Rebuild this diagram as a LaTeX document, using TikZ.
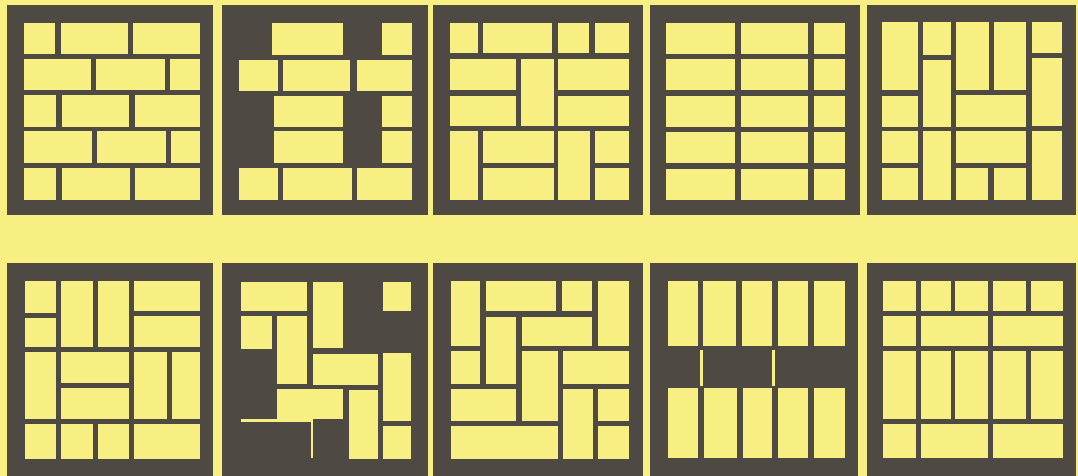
\documentclass[tikz,border=0pt]{standalone}
\definecolor{paper}{HTML}{F8EF82}
\definecolor{ink}{HTML}{4E4943}
\tikzset{
  tileframe/.style={fill=ink},
  brick/.style={fill=paper},
  seam/.style={fill=paper},
  tilescope/.style={x=0.33333pt,y=-0.33333pt}
}
\begin{document}
\begin{tikzpicture}[x=1pt,y=-1pt]
\fill[paper] (0,0) rectangle (1078,476);
\useasboundingbox (0,0) rectangle (1078,476);

% ---------- Tile 1 ----------
\begin{scope}[xshift=0pt,yshift=0pt,tilescope]
\fill[tileframe] (20,15) rectangle (640,645);
\foreach \a/\b in {72/165,182/385,400/600} \fill[brick] (\a,70) rectangle (\b,162);
\foreach \a/\b in {72/272,288/495,510/600} \fill[brick] (\a,178) rectangle (\b,270);
\foreach \a/\b in {72/168,185/388,405/600} \fill[brick] (\a,285) rectangle (\b,380);
\foreach \a/\b in {72/275,290/497,512/600} \fill[brick] (\a,393) rectangle (\b,490);
\foreach \a/\b in {72/168,185/390,405/600} \fill[brick] (\a,503) rectangle (\b,600);
\end{scope}

% ---------- Tile 2 ----------
\begin{scope}[xshift=215pt,yshift=0pt,tilescope]
\fill[tileframe] (22,15) rectangle (640,645);
\foreach \a/\b in {170/385,500/590} \fill[brick] (\a,68) rectangle (\b,165);
\foreach \a/\b in {72/190,205/405,425/590} \fill[brick] (\a,180) rectangle (\b,272);
\foreach \a/\b in {178/385,500/590} \fill[brick] (\a,288) rectangle (\b,380);
\foreach \a/\b in {178/385,500/590} \fill[brick] (\a,393) rectangle (\b,490);
\foreach \a/\b in {72/188,203/410,425/590} \fill[brick] (\a,503) rectangle (\b,600);
\end{scope}

% ---------- Tile 3 ----------
\begin{scope}[xshift=430pt,yshift=0pt,tilescope]
\fill[tileframe] (10,15) rectangle (640,645);
\foreach \a/\b in {60/145,160/365,385/478,495/598} \fill[brick] (\a,70) rectangle (\b,160);
\fill[brick] (60,178) rectangle (258,270);
\fill[brick] (60,288) rectangle (258,378);
\fill[brick] (272,178) rectangle (372,378);
\fill[brick] (385,178) rectangle (598,270);
\fill[brick] (385,288) rectangle (598,378);
\fill[brick] (60,393) rectangle (145,600);
\fill[brick] (160,393) rectangle (372,490);
\fill[brick] (160,505) rectangle (372,600);
\fill[brick] (385,393) rectangle (480,600);
\fill[brick] (495,393) rectangle (598,490);
\fill[brick] (495,505) rectangle (598,600);
\end{scope}

% ---------- Tile 4 ----------
\begin{scope}[xshift=645pt,yshift=0pt,tilescope]
\fill[tileframe] (15,15) rectangle (645,645);
\foreach \t/\u in {68/162,178/270,288/380,395/490,508/600}
  \foreach \a/\b in {62/270,288/490,508/600}
    \fill[brick] (\a,\t) rectangle (\b,\u);
\end{scope}

% ---------- Tile 5 ----------
\begin{scope}[xshift=858pt,yshift=0pt,tilescope]
\fill[tileframe] (28,15) rectangle (655,645);
\fill[brick] (72,65) rectangle (180,270);
\fill[brick] (195,65) rectangle (278,165);
\fill[brick] (195,180) rectangle (278,380);
\fill[brick] (295,65) rectangle (392,270);
\fill[brick] (408,65) rectangle (505,270);
\fill[brick] (522,65) rectangle (612,160);
\fill[brick] (522,175) rectangle (612,378);
\fill[brick] (72,288) rectangle (180,380);
\fill[brick] (295,285) rectangle (505,380);
\fill[brick] (72,393) rectangle (180,490);
\fill[brick] (72,505) rectangle (180,600);
\fill[brick] (195,393) rectangle (278,600);
\fill[brick] (295,393) rectangle (505,488);
\fill[brick] (295,503) rectangle (390,600);
\fill[brick] (408,503) rectangle (505,600);
\fill[brick] (522,393) rectangle (612,600);
\end{scope}

% ---------- Tile 6 ----------
\begin{scope}[xshift=0pt,yshift=-256pt,tilescope]
\fill[tileframe] (22,20) rectangle (640,660);
\fill[brick] (75,75) rectangle (168,170);
\fill[brick] (75,185) rectangle (168,272);
\fill[brick] (183,75) rectangle (278,272);
\fill[brick] (295,75) rectangle (388,272);
\fill[brick] (403,75) rectangle (600,165);
\fill[brick] (403,180) rectangle (600,272);
\fill[brick] (75,288) rectangle (168,490);
\fill[brick] (183,288) rectangle (388,380);
\fill[brick] (183,395) rectangle (388,490);
\fill[brick] (403,288) rectangle (500,490);
\fill[brick] (515,288) rectangle (600,490);
\fill[brick] (75,505) rectangle (168,610);
\fill[brick] (183,505) rectangle (278,610);
\fill[brick] (295,505) rectangle (388,610);
\fill[brick] (403,505) rectangle (600,610);
\end{scope}

% ---------- Tile 7 ----------
\begin{scope}[xshift=215pt,yshift=-256pt,tilescope]
\fill[tileframe] (22,20) rectangle (640,660);
\fill[brick] (78,78) rectangle (275,165);
\fill[brick] (293,78) rectangle (385,275);
\fill[brick] (503,78) rectangle (588,165);
\fill[brick] (78,180) rectangle (170,278);
\fill[brick] (185,180) rectangle (275,385);
\fill[brick] (293,293) rectangle (490,388);
\fill[brick] (505,290) rectangle (588,495);
\fill[brick] (185,400) rectangle (385,490);
\fill[brick] (403,403) rectangle (490,610);
\fill[brick] (505,510) rectangle (588,610);
\fill[seam] (78,490) rectangle (295,497);
\fill[seam] (287,490) rectangle (295,605);
\end{scope}

% ---------- Tile 8 ----------
\begin{scope}[xshift=430pt,yshift=-256pt,tilescope]
\fill[tileframe] (10,20) rectangle (640,660);
\fill[brick] (62,75) rectangle (150,270);
\fill[brick] (168,75) rectangle (378,165);
\fill[brick] (395,75) rectangle (485,165);
\fill[brick] (503,75) rectangle (598,270);
\fill[brick] (168,182) rectangle (258,385);
\fill[brick] (275,182) rectangle (485,270);
\fill[brick] (62,285) rectangle (150,385);
\fill[brick] (275,285) rectangle (385,495);
\fill[brick] (398,285) rectangle (598,385);
\fill[brick] (62,400) rectangle (258,495);
\fill[brick] (398,400) rectangle (490,610);
\fill[brick] (505,400) rectangle (598,495);
\fill[brick] (62,510) rectangle (385,610);
\fill[brick] (505,510) rectangle (598,610);
\end{scope}

% ---------- Tile 9 ----------
\begin{scope}[xshift=645pt,yshift=-256pt,tilescope]
\fill[tileframe] (15,20) rectangle (640,660);
\foreach \a/\b in {68/160,175/272,290/380,398/490,508/600} \fill[brick] (\a,75) rectangle (\b,270);
\foreach \a/\b in {68/160,178/275,293/380,398/490,508/600} \fill[brick] (\a,395) rectangle (\b,605);
\fill[seam] (164,283) rectangle (173,390);
\fill[seam] (382,283) rectangle (390,390);
\end{scope}

% ---------- Tile 10 ----------
\begin{scope}[xshift=858pt,yshift=-256pt,tilescope]
\fill[tileframe] (28,20) rectangle (655,660);
\foreach \a/\b in {75/175,190/278,292/390,405/505,520/615} \fill[brick] (\a,75) rectangle (\b,165);
\foreach \a/\b in {75/175,190/390,405/615} \fill[brick] (\a,180) rectangle (\b,270);
\foreach \a/\b in {75/175,190/278,292/390,405/505,520/615} \fill[brick] (\a,285) rectangle (\b,490);
\foreach \a/\b in {75/175,190/390,405/615} \fill[brick] (\a,505) rectangle (\b,605);
\end{scope}
\end{tikzpicture}
\end{document}
